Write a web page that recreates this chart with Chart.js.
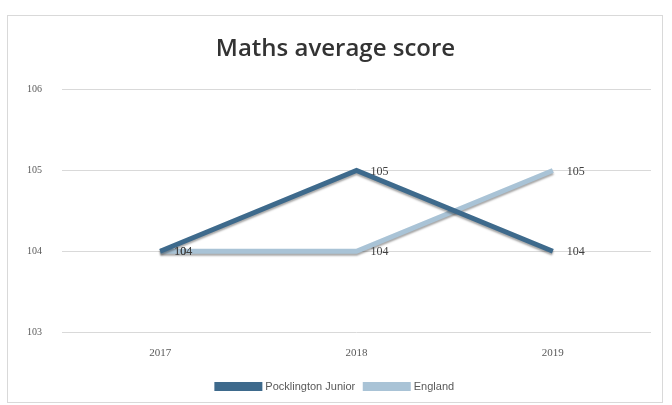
<!DOCTYPE html>
<html>
<head>
<meta charset="utf-8">
<script src="https://cdn.jsdelivr.net/npm/chart.js@4.4.0/dist/chart.umd.min.js"></script>
<style>
    html, body { margin: 0; padding: 0; background: #fff; }
    #wrap {
        position: absolute;
        left: 7px; top: 15px;
        width: 654px; height: 386px;
        border: 1px solid #d9d9d9;
        background: #fff;
    }
    canvas { display: block; }
</style>
</head>
<body>
<div id="wrap"><canvas id="chart" width="654" height="386"></canvas></div>
<script>
// Data
const years = ['2017', '2018', '2019'];
const pocklington = [104, 105, 104];
const england = [104, 104, 105];
const yTicks = [103, 104, 105, 106];

// value labels drawn just right of each point
const valueLabels = {
    id: 'valueLabels',
    afterDatasetsDraw(chart) {
        const ctx = chart.ctx;
        ctx.save();
        ctx.font = '12px "Liberation Serif"';
        ctx.fillStyle = '#404040';
        ctx.textAlign = 'left';
        ctx.textBaseline = 'middle';
        chart.data.datasets.forEach((ds, i) => {
            const meta = chart.getDatasetMeta(i);
            meta.data.forEach((pt, j) => {
                ctx.fillText(String(ds.data[j]), pt.x + 14, pt.y + 1);
            });
        });
        ctx.restore();
    }
};

// soft drop shadow under the lines
const lineShadow = {
    id: 'lineShadow',
    beforeDatasetDraw(chart) {
        chart.ctx.save();
        chart.ctx.shadowColor = 'rgba(0,0,0,0.35)';
        chart.ctx.shadowBlur = 2;
        chart.ctx.shadowOffsetY = 2;
    },
    afterDatasetDraw(chart) {
        chart.ctx.restore();
    }
};

new Chart(document.getElementById('chart'), {
    type: 'line',
    data: {
        labels: years,
        datasets: [
            { label: 'Pocklington Junior', data: pocklington, borderColor: '#3e6a8c', backgroundColor: '#3e6a8c', borderWidth: 5, pointRadius: 0, tension: 0 },
            { label: 'England', data: england, borderColor: '#a9c3d6', backgroundColor: '#a9c3d6', borderWidth: 5, pointRadius: 0, tension: 0 }
        ]
    },
    plugins: [lineShadow, valueLabels],
    options: {
        responsive: false,
        animation: false,
        layout: { padding: { left: 12, right: 11, top: 19, bottom: 0 } },
        plugins: {
            title: {
                display: true,
                text: 'Maths average score',
                color: '#333333',
                font: { family: '"Open Sans"', size: 24, weight: '600' },
                padding: { top: 0, bottom: 26 }
            },
            legend: {
                position: 'bottom',
                labels: {
                    boxWidth: 43,
                    boxHeight: 4,
                    color: '#595959',
                    font: { family: '"Liberation Sans Narrow", "Liberation Sans"', size: 11 },
                    padding: 10
                }
            },
            tooltip: { enabled: false }
        },
        scales: {
            x: {
                offset: true,
                grid: { display: false, drawTicks: false },
                border: { display: false },
                afterFit: (scale) => { scale.height = 39; },
                ticks: { color: '#595959', font: { family: '"Liberation Serif"', size: 11 }, padding: 15 }
            },
            y: {
                min: 103,
                max: 106,
                afterBuildTicks: (scale) => { scale.ticks = yTicks.map(v => ({ value: v })); },
                afterFit: (scale) => { scale.width = 42; },
                grid: { color: '#d9d9d9', drawTicks: false },
                border: { display: false },
                ticks: { color: '#595959', font: { family: '"Liberation Serif"', size: 10 }, padding: 20 }
            }
        }
    }
});
</script>
</body>
</html>
